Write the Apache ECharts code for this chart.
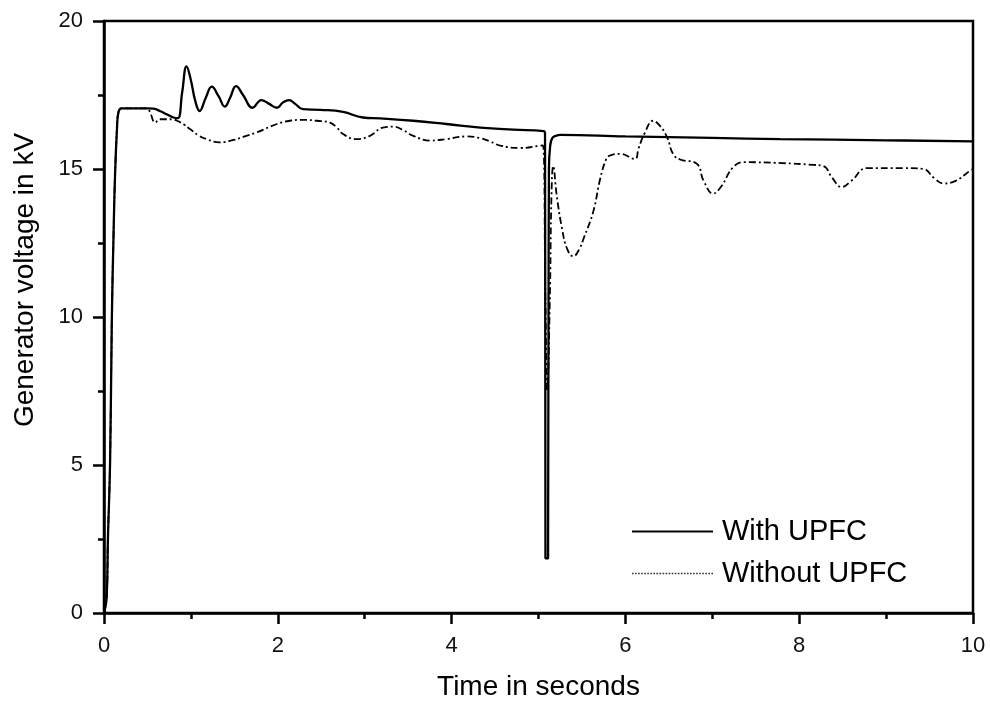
<!DOCTYPE html>
<html>
<head>
<meta charset="utf-8">
<script src="https://cdn.jsdelivr.net/npm/echarts@6/dist/echarts.min.js"></script>
<style>
html,body{margin:0;padding:0;background:#fff;}
#chart{width:990px;height:706px;}
</style>
</head>
<body>
<div id="chart"></div>
<script>
// Time in seconds / generator voltage in kV
var withTime = [0,0.03,0.045,0.07,0.09,0.11,0.127,0.15,0.165,0.2,0.35,0.5,0.57,0.65,0.72,0.8,0.85,0.9,0.95,1.0,1.05,1.1,1.17,1.24,1.32,1.39,1.45,1.52,1.6,1.71,1.81,1.9,1.99,2.06,2.13,2.2,2.29,2.49,2.75,2.98,3.18,3.56,3.94,4.33,4.71,5.06,5.075,5.08,5.11,5.12,5.135,5.16,5.2,5.25,6,7,7.78,9,10];
var withVolt = [0,0.5,2.5,5.1,9.9,12.8,14.8,16.4,16.9,17.05,17.05,17.05,17.04,16.95,16.85,16.74,16.72,17.6,18.47,18.0,17.3,16.96,17.4,17.78,17.45,17.11,17.4,17.8,17.5,17.07,17.33,17.2,17.07,17.25,17.33,17.2,17.02,17.0,16.93,16.74,16.71,16.63,16.52,16.4,16.33,16.28,16.2,1.85,1.85,15.0,15.8,16.05,16.12,16.15,16.1,16.05,16.01,15.97,15.93];

var withoutTime = [0,0.03,0.045,0.07,0.09,0.11,0.127,0.15,0.165,0.2,0.35,0.5,0.53,0.59,0.64,0.72,0.79,0.84,0.92,0.99,1.08,1.18,1.33,1.49,1.62,1.76,1.99,2.14,2.3,2.45,2.6,2.68,2.75,2.91,3.06,3.21,3.33,3.45,3.56,3.75,3.94,4.17,4.33,4.45,4.56,4.79,5.02,5.05,5.08,5.1,5.13,5.15,5.17,5.21,5.27,5.33,5.4,5.47,5.52,5.63,5.71,5.78,5.82,5.94,6.11,6.15,6.22,6.32,6.4,6.48,6.55,6.63,6.82,6.9,7.01,7.1,7.24,7.36,7.8,8.16,8.28,8.38,8.49,8.6,8.78,9.2,9.43,9.55,9.66,9.8,9.97,10];
var withoutVolt = [0,0.5,2.5,5.1,9.9,12.8,14.8,16.4,16.9,17.05,17.05,17.05,16.91,16.57,16.68,16.68,16.68,16.63,16.5,16.35,16.15,16.01,15.9,15.98,16.1,16.24,16.52,16.63,16.66,16.63,16.57,16.4,16.18,16.01,16.12,16.4,16.43,16.3,16.12,15.96,16.01,16.1,16.04,15.92,15.79,15.71,15.79,15.8,10.5,7.5,10.5,14.2,15.1,14.1,13.0,12.3,12.05,12.3,12.66,13.56,14.67,15.34,15.45,15.51,15.34,15.68,16.2,16.63,16.45,16.07,15.5,15.32,15.18,14.6,14.17,14.4,15.06,15.23,15.2,15.14,15.1,14.7,14.39,14.6,15.03,15.03,15.0,14.7,14.51,14.6,14.95,15.0];

var xTicks = [0,2,4,6,8,10];
var yTicks = [0,5,10,15,20];
var seriesNames = ['With UPFC','Without UPFC'];
var xTitle = 'Time in seconds';
var yTitle = 'Generator voltage in kV';

function pairs(t, v){ var out=[]; for (var i=0;i<t.length;i++) out.push([t[i], v[i]]); return out; }

// legend sample icons (styling only)
var solidIcon = 'path://M0,0L81,0L81,2L0,2Z';
var dotIcon = 'path://';
for (var k = 0; k < 27; k++) { var x0 = k*3; dotIcon += 'M'+x0+',0L'+(x0+1.6)+',0L'+(x0+1.6)+',1.3L'+x0+',1.3Z'; }

var FONT = '"Liberation Sans", Arial, Helvetica, sans-serif';
var chart = echarts.init(document.getElementById('chart'), null, {renderer:'canvas'});
var axisCommon = {
  axisLine:{show:true, onZero:false, lineStyle:{color:'#000', width:2.5}},
  axisTick:{show:true, inside:false, length:11, lineStyle:{color:'#000', width:2.5}},
  minorTick:{show:true, splitNumber:2, length:6, lineStyle:{color:'#000', width:2.5}},
  splitLine:{show:false},
  axisLabel:{color:'#111', fontSize:22, fontFamily:FONT}
};
chart.setOption({
  animation:false,
  backgroundColor:'#fff',
  grid:{left:104, right:17, top:21, bottom:88, show:true, borderColor:'#000', borderWidth:2.5, backgroundColor:'transparent'},
  legend:{
    orient:'vertical', left:627, top:512, itemWidth:81, itemHeight:14, itemGap:13,
    textStyle:{fontSize:29, fontFamily:FONT, color:'#000', padding:[0,0,0,4]},
    data:[
      {name:seriesNames[0], icon:solidIcon, itemStyle:{color:'#000'}},
      {name:seriesNames[1], icon:dotIcon, itemStyle:{color:'#333'}}
    ]
  },
  xAxis:Object.assign({}, axisCommon, {
    type:'value', min:0, max:10, interval:2,
    name:xTitle, nameLocation:'middle', nameGap:60,
    nameTextStyle:{fontSize:28, fontFamily:FONT, color:'#000'},
    axisLabel:Object.assign({}, axisCommon.axisLabel, {margin:22, formatter:function(v){return xTicks.indexOf(v)>=0? String(v):'';}})
  }),
  yAxis:Object.assign({}, axisCommon, {
    type:'value', min:0, max:20, interval:5,
    name:yTitle, nameLocation:'middle', nameGap:65,
    nameTextStyle:{fontSize:28, fontFamily:FONT, color:'#000', padding:[0,0,0,74]},
    axisLabel:Object.assign({}, axisCommon.axisLabel, {margin:21, formatter:function(v){return yTicks.indexOf(v)>=0? String(v):'';}})
  }),
  series:[
    {name:seriesNames[0], type:'line', data:pairs(withTime, withVolt), showSymbol:false, symbol:'none',
     smooth:0.45, lineStyle:{color:'#000', width:2.3}, itemStyle:{color:'#000'}, z:3},
    {name:seriesNames[1], type:'line', data:pairs(withoutTime, withoutVolt), showSymbol:false, symbol:'none',
     smooth:0.45, lineStyle:{color:'#000', width:1.8, type:[7,3,2,3]}, itemStyle:{color:'#000'}, z:2}
  ]
});
</script>
</body>
</html>
